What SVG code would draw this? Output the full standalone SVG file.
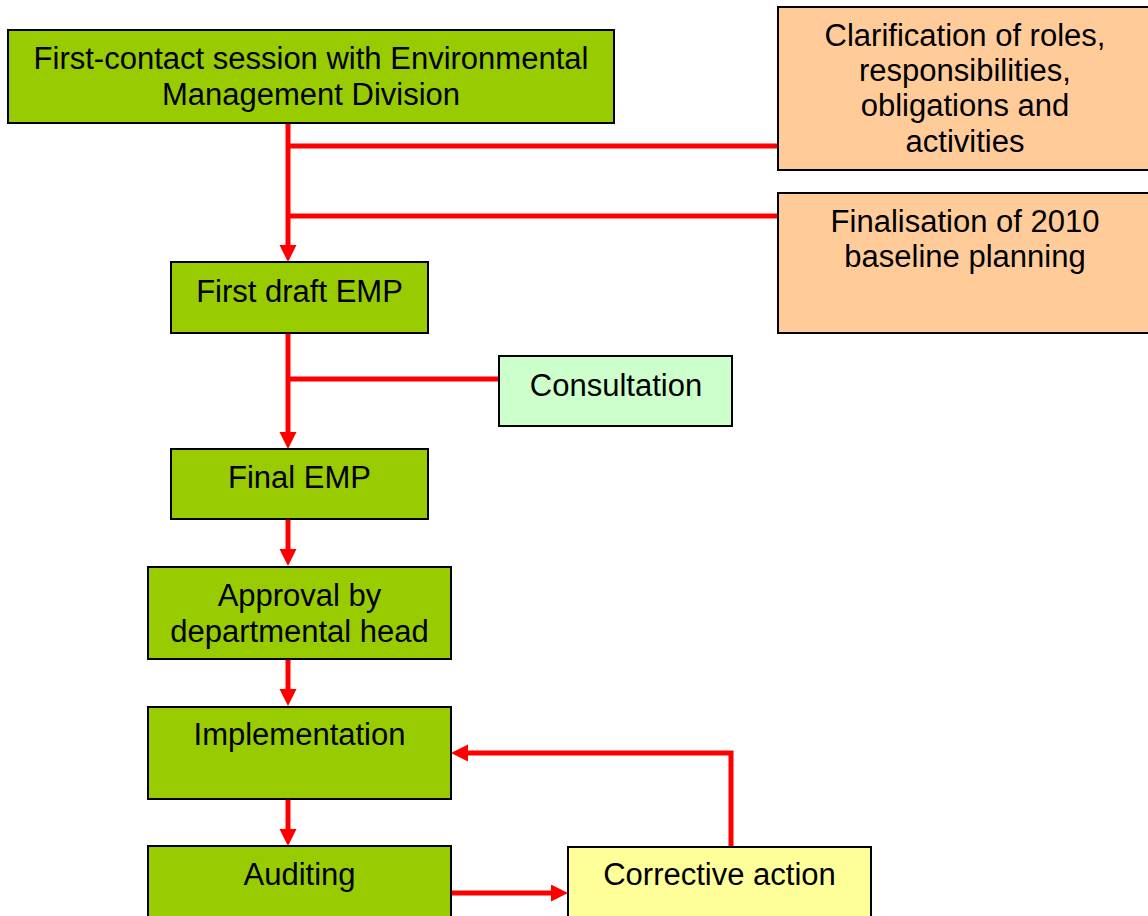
<svg xmlns="http://www.w3.org/2000/svg" width="1148" height="916" viewBox="0 0 1148 916">
<style>
.box{stroke:#000;stroke-width:2}
.g{fill:#99CC00}
.o{fill:#FFCC99}
.c{fill:#CCFFCC}
.y{fill:#FFFF99}
text{font-family:"Liberation Sans",Arial,sans-serif;font-size:31px;fill:#000;text-anchor:middle}
.con{fill:none;stroke:#FF0000;stroke-width:5;stroke-linejoin:miter}
</style>
<defs>
<marker id="ah" markerUnits="userSpaceOnUse" markerWidth="18" markerHeight="18" refX="7" refY="8.5" orient="auto">
<path d="M0,0 L17,8.5 L0,17 Z" fill="#FF0000"/>
</marker>
</defs>
<rect width="1148" height="916" fill="#fff"/>
<g id="connectors">
<path class="con" d="M288,123 V252" marker-end="url(#ah)"/>
<path class="con" d="M288,146 H778"/>
<path class="con" d="M288,216 H778"/>
<path class="con" d="M288,333 V439" marker-end="url(#ah)"/>
<path class="con" d="M288,379 H498"/>
<path class="con" d="M288,519 V556" marker-end="url(#ah)"/>
<path class="con" d="M288,659 V696" marker-end="url(#ah)"/>
<path class="con" d="M288,799 V836" marker-end="url(#ah)"/>
<path class="con" d="M451,893 H558" marker-end="url(#ah)"/>
<path class="con" d="M731,846 V753 H461" marker-end="url(#ah)"/>
</g>
<g id="first-contact">
<rect class="box g" x="8" y="30" width="606" height="93"/>
<text x="311" y="69">First-contact session with Environmental</text>
<text x="311" y="105">Management Division</text>
</g>
<g id="clarification">
<rect class="box o" x="778" y="7" width="380" height="163"/>
<text x="965" y="46">Clarification of roles,</text>
<text x="965" y="81">responsibilities,</text>
<text x="965" y="116">obligations and</text>
<text x="965" y="152">activities</text>
</g>
<g id="finalisation">
<rect class="box o" x="778" y="193" width="380" height="140"/>
<text x="965" y="232">Finalisation of 2010</text>
<text x="965" y="267">baseline planning</text>
</g>
<g id="first-draft">
<rect class="box g" x="171" y="262" width="257" height="71"/>
<text x="299.5" y="302">First draft EMP</text>
</g>
<g id="consultation">
<rect class="box c" x="499" y="356" width="233" height="70"/>
<text x="616" y="396">Consultation</text>
</g>
<g id="final-emp">
<rect class="box g" x="171" y="449" width="257" height="70"/>
<text x="299.5" y="488">Final EMP</text>
</g>
<g id="approval">
<rect class="box g" x="148" y="567" width="303" height="92"/>
<text x="299.5" y="606">Approval by</text>
<text x="299.5" y="642">departmental head</text>
</g>
<g id="implementation">
<rect class="box g" x="148" y="707" width="303" height="92"/>
<text x="299.5" y="745">Implementation</text>
</g>
<g id="auditing">
<rect class="box g" x="148" y="846" width="303" height="80"/>
<text x="299.5" y="885">Auditing</text>
</g>
<g id="corrective">
<rect class="box y" x="568" y="847" width="303" height="80"/>
<text x="719.5" y="885">Corrective action</text>
</g>
</svg>
